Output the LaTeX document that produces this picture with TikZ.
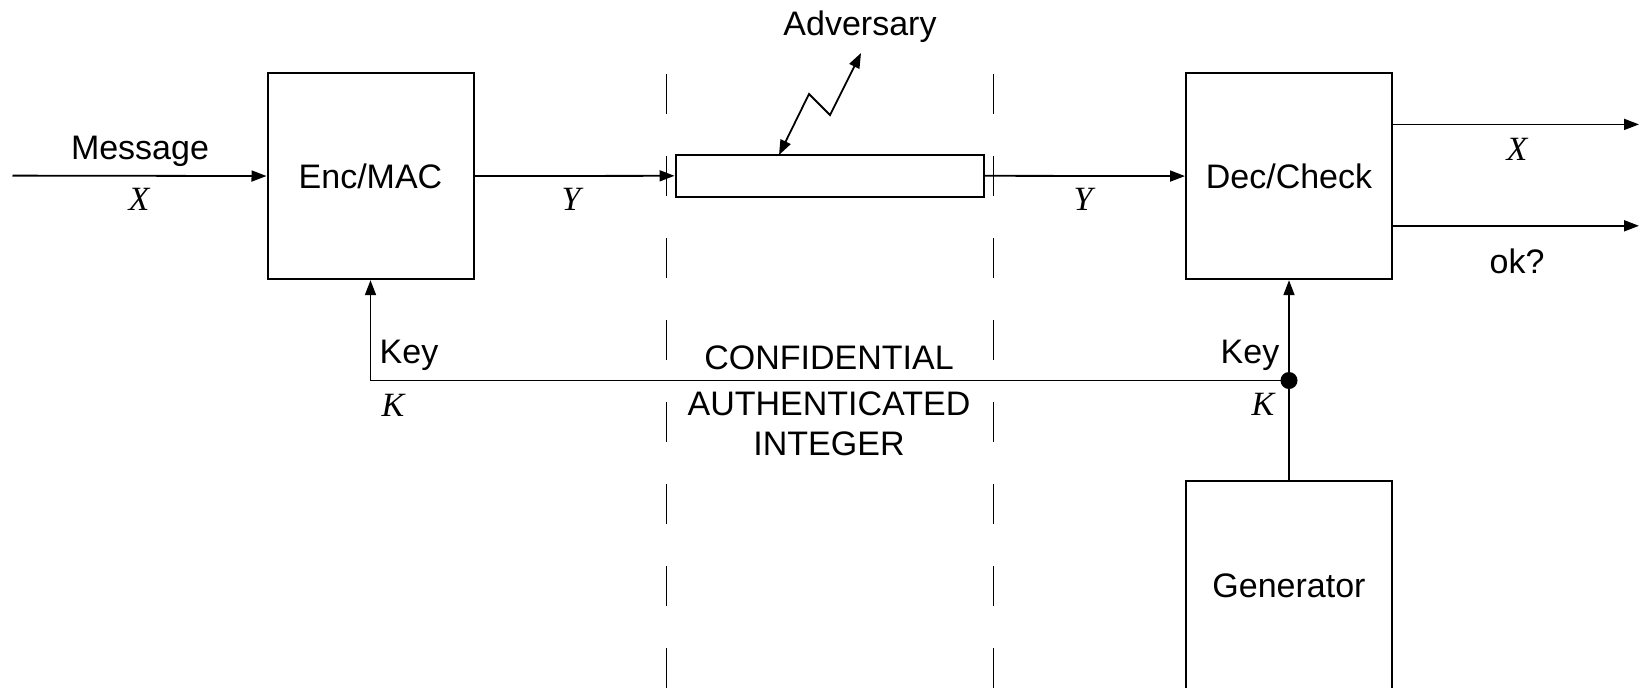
\documentclass[tikz,border=0pt]{standalone}
\usepackage{fontspec}
\setmainfont{Liberation Sans}
\newfontfamily\timesfont{Liberation Serif}
\usetikzlibrary{arrows.meta,positioning}
\newcommand{\sym}[1]{{\timesfont\itshape #1}}

\begin{document}
\begin{tikzpicture}[
  x=0.5pt, y=-0.5pt,
  every node/.style={font=\fontsize{17}{20}\selectfont},
  block/.style={rectangle, draw, line width=1pt, minimum width=103pt, minimum height=103pt, inner sep=0pt},
  wire/.style={line width=0.9pt},
  arr/.style={wire, -{Triangle[length=7.5pt,width=5.5pt]}},
  tag/.style={anchor=base, inner sep=0pt},
  zone/.style={line width=0.45pt, dash pattern=on 20pt off 21pt}
]
  \useasboundingbox (0,0) rectangle (1639,687);
  % boundaries of the channel zone
  \foreach \x in {666,993} \draw[zone] (\x,74) -- (\x,690);
  % blocks
  \node[block] (enc) at (370.5,176.2) {Enc/MAC};
  \node[block] (dec) at (1289,176.2) {Dec/Check};
  \node[block, minimum height=105pt] (gen) at (1289,585.5) {Generator};
  \node[rectangle, draw, line width=1pt, minimum width=154pt, minimum height=21pt, fill=white] (chan) at (829.5,175.6) {};
  \node[circle, fill, inner sep=0pt, minimum size=8.5pt] (tap) at (1289,380.5) {};
  % free ends
  \coordinate (src) at (12.5,175.6);
  \coordinate (outX) at (1639,124.4);
  \coordinate (outOk) at (1639,225.8);
  \coordinate (hit) at (779,155);
  \coordinate (adv) at (861,53);
  % connectors
  \draw[arr] (src) -- (enc);
  \draw[arr] (enc) -- (chan);
  \draw[arr] (chan) -- (dec);
  \draw[arr] (outX -| dec.east) -- (outX);
  \draw[arr] (outOk -| dec.east) -- (outOk);
  \draw[arr] (gen.north) -- (dec.south);
  \draw[arr] (tap.center) -| (enc.south);
  \draw[wire, {Triangle[length=7.5pt,width=5.5pt]}-{Triangle[length=7.5pt,width=5.5pt]}]
    (hit) -- (809,94) -- (830,115) -- (adv);
  % labels
  \node[tag] (advlbl) at (860,35) {Adversary};
  \node[tag] (msg) at (140,159) {Message};
  \node[tag] (xin) at (139,210) {\sym{X}};
  \node[tag] (yin) at (571,210) {\sym{Y}};
  \node[tag] (yout) at (1083,210) {\sym{Y}};
  \node[tag] (xout) at (1517,160) {\sym{X}};
  \node[tag] (okq) at (1517,273) {ok?};
  \node[tag] (keyl) at (409,363) {Key};
  \node[tag] (kl) at (393,416) {\sym{K}};
  \node[tag] (keyr) at (1250,363) {Key};
  \node[tag] (kr) at (1263,415) {\sym{K}};
  \node[tag] (conf) at (829,369.5) {CONFIDENTIAL};
  \node[tag] (auth) at (829,415.5) {AUTHENTICATED};
  \node[tag] (integ) at (829,455) {INTEGER};
\end{tikzpicture}
\end{document}
